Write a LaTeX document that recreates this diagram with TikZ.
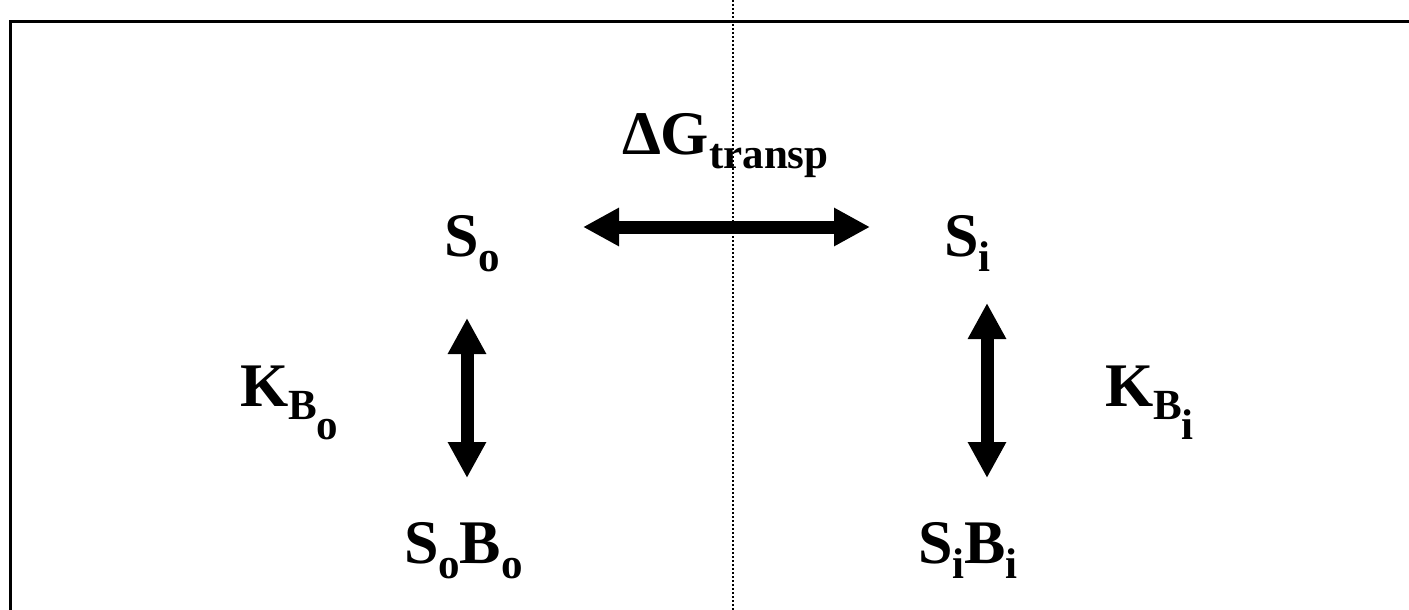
\documentclass[tikz,border=0pt]{standalone}
\usepackage{fontspec}
\setmainfont{Liberation Serif}
\usetikzlibrary{arrows.meta}

% lowered, smaller text for subscripts
\newcommand\lowtxt[2]{\raisebox{-#1}{\fontsize{43}{43}\selectfont #2}}

\begin{document}
\begin{tikzpicture}[x=1pt,y=-1pt,
  label/.style={inner sep=0pt,outer sep=0pt,anchor=base west,
    font=\fontsize{62}{64}\selectfont\bfseries},
  dblarrow/.style={line width=13pt,
    {Triangle[width=36pt,length=36pt]}-{Triangle[width=36pt,length=36pt]}},
  frame/.style={line width=3pt,black},
  divider/.style={line width=1.1pt,dash pattern=on 1.6pt off 2.4pt,black}]
  \useasboundingbox (0,0) rectangle (1409,610);
  \clip (0,0) rectangle (1409,610);

  % outer frame (continues past the right and bottom edges)
  \draw[frame] (10,640) -- (10,22) -- (1440,22);

  % membrane divider
  \coordinate (mtop) at (733,0);
  \coordinate (mbot) at (733,610);
  \draw[divider] (mtop) -- (mbot);

  % species
  \node[label] (So) at (444,256) {S\lowtxt{15pt}{o}};
  \node[label] (Si) at (944,256) {S\lowtxt{15pt}{i}};
  \node[label] (SoBo) at (404,563) {S\lowtxt{15pt}{o}B\lowtxt{15pt}{o}};
  \node[label] (SiBi) at (918,563) {S\lowtxt{15pt}{i}B\lowtxt{15pt}{i}};

  % constants
  \node[label] (dG) at (622,154) {ΔG\lowtxt{14pt}{transp}};
  \node[label] (KBo) at (240,406) {K\lowtxt{13pt}{B\lowtxt{20pt}{o}}};
  \node[label] (KBi) at (1105,406) {K\lowtxt{13pt}{B\lowtxt{20pt}{i}}};

  % equilibria
  \coordinate (hl) at (583,227);
  \coordinate (hr) at (870,227);
  \coordinate (lt) at (467,318);
  \coordinate (lb) at (467,478);
  \coordinate (rt) at (987,303);
  \coordinate (rb) at (987,478);
  \draw[dblarrow] (hl) -- (hr);
  \draw[dblarrow] (lt) -- (lb);
  \draw[dblarrow] (rt) -- (rb);
\end{tikzpicture}
\end{document}
